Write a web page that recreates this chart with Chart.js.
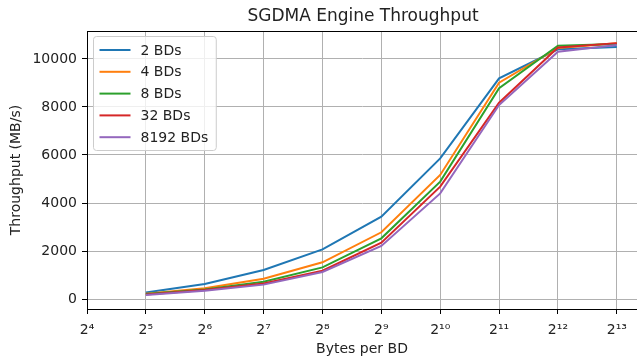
<!DOCTYPE html>
<html>
<head>
<meta charset="utf-8">
<title>SGDMA Engine Throughput</title>
<script src="https://cdn.jsdelivr.net/npm/chart.js@4.4.1/dist/chart.umd.min.js"></script>
<style>
  html, body { margin: 0; padding: 0; background: #ffffff; }
  #wrap { width: 637px; height: 360px; }
</style>
</head>
<body>
<div id="wrap"><canvas id="throughputChart" width="637" height="360"></canvas></div>
<script>
// bytes per buffer descriptor (x, log2 axis)
const bytesPerBD = [32, 64, 128, 256, 512, 1024, 2048, 4096, 8192];

// throughput in MB/s
const bd2 = [270, 625, 1210, 2070, 3430, 5860, 9190, 10400, 10500];
const bd4 = [225, 445, 845, 1530, 2780, 5170, 9010, 10460, 10650];
const bd8 = [210, 400, 720, 1320, 2530, 4890, 8780, 10550, 10620];
const bd32 = [190, 375, 650, 1180, 2350, 4680, 8180, 10480, 10660];
const bd8192 = [170, 345, 600, 1125, 2210, 4400, 8080, 10300, 10580];

const seriesLabels = ["2 BDs", "4 BDs", "8 BDs", "32 BDs", "8192 BDs"];
const seriesColors = ["#1f77b4", "#ff7f0e", "#2ca02c", "#d62728", "#9467bd"];

// tick labels
const xTickExponents = [4, 5, 6, 7, 8, 9, 10, 11, 12, 13];
const yTicks = [0, 2000, 4000, 6000, 8000, 10000];

const FONT = "'DejaVu Sans', sans-serif";
const SUP = { "0": "\u2070", "1": "\u00b9", "2": "\u00b2", "3": "\u00b3", "4": "\u2074",
  "5": "\u2075", "6": "\u2076", "7": "\u2077", "8": "\u2078", "9": "\u2079" };

function pow2Label(value) {
  const e = Math.round(Math.log2(value));
  return "2" + String(e).split("").map((d) => SUP[d]).join("");
}

function toPoints(values) {
  return values.map((v, i) => ({ x: bytesPerBD[i], y: v }));
}

/**
 * Title, top spine and matplotlib-like legend box
 */
const decorPlugin = {
  id: "decor",
  afterDatasetsDraw(chart) {
    const ctx = chart.ctx;
    const area = chart.chartArea;

    ctx.save();
    // top spine
    ctx.strokeStyle = "#000000";
    ctx.lineWidth = 1;
    ctx.beginPath();
    ctx.moveTo(area.left, area.top + 0.5);
    ctx.lineTo(area.right, area.top + 0.5);
    ctx.stroke();

    // legend
    const sets = chart.data.datasets;
    ctx.font = "14px " + FONT;
    let maxW = 0;
    sets.forEach((ds) => { maxW = Math.max(maxW, ctx.measureText(ds.label).width); });
    const bx = area.left + 6.5;
    const by = area.top + 5.5;
    const textX = bx + 47;
    const bw = textX - bx + maxW + 8;
    const rowH = 21.8;
    const bh = sets.length * rowH + 5;
    ctx.fillStyle = "rgba(255,255,255,0.8)";
    ctx.strokeStyle = "#cccccc";
    ctx.beginPath();
    ctx.roundRect(bx, by, bw, bh, 3);
    ctx.fill();
    ctx.stroke();

    sets.forEach((ds, i) => {
      const y = by + 13.5 + i * rowH;
      ctx.strokeStyle = ds.borderColor;
      ctx.lineWidth = 2;
      ctx.beginPath();
      ctx.moveTo(bx + 6, y);
      ctx.lineTo(bx + 37, y);
      ctx.stroke();
      ctx.fillStyle = "#222222";
      ctx.textBaseline = "middle";
      ctx.textAlign = "left";
      ctx.fillText(ds.label, textX, y + 1);
    });

    // title, centred over the axes
    ctx.font = "17px " + FONT;
    ctx.fillStyle = "#222222";
    ctx.textAlign = "center";
    ctx.textBaseline = "middle";
    ctx.fillText("SGDMA Engine Throughput", (area.left + area.right) / 2 + 1, 16.5);
    ctx.restore();
  },
};

const seriesValues = [bd2, bd4, bd8, bd32, bd8192];

const ctx = document.getElementById("throughputChart").getContext("2d");
const chart = new Chart(ctx, {
  type: "line",
  data: {
    datasets: seriesValues.map((vals, i) => ({
      label: seriesLabels[i],
      data: toPoints(vals),
      borderColor: seriesColors[i],
      backgroundColor: seriesColors[i],
      borderWidth: 2,
      pointRadius: 0,
      tension: 0,
      fill: false,
      order: seriesValues.length - i,
    })),
  },
  options: {
    responsive: false,
    animation: false,
    layout: { padding: { top: 31, right: 0, bottom: 0, left: 0 } },
    plugins: {
      legend: { display: false },
      title: { display: false },
      tooltip: { enabled: false },
    },
    scales: {
      x: {
        type: "logarithmic",
        min: 16,
        max: Math.pow(2, 13.343),
        afterBuildTicks: (scale) => {
          scale.ticks = xTickExponents.map((e) => ({ value: Math.pow(2, e) }));
        },
        afterFit: (scale) => { scale.height = 51; },
        ticks: {
          autoSkip: false,
          maxRotation: 0,
          padding: 8,
          color: "#222222",
          font: { family: FONT, size: 14 },
          callback: (value) => pow2Label(value),
        },
        grid: {
          color: "#b0b0b0",
          lineWidth: 1,
          tickColor: "#000000",
          tickLength: 5,
        },
        border: { color: "#000000", width: 1 },
        title: {
          display: true,
          text: "Bytes per BD",
          color: "#222222",
          font: { family: FONT, size: 14 },
          padding: { top: 0, bottom: 2 },
        },
      },
      y: {
        type: "linear",
        min: -415,
        max: 11165,
        afterBuildTicks: (scale) => {
          scale.ticks = yTicks.map((v) => ({ value: v }));
        },
        afterFit: (scale) => { scale.width = 87; },
        ticks: {
          padding: 5,
          color: "#222222",
          font: { family: FONT, size: 14 },
          callback: (value) => String(value),
        },
        grid: {
          color: "#b0b0b0",
          lineWidth: 1,
          tickColor: "#000000",
          tickLength: 5,
        },
        border: { color: "#000000", width: 1 },
        title: {
          display: true,
          text: "Throughput (MB/s)",
          color: "#222222",
          font: { family: FONT, size: 14 },
          padding: { top: 8, bottom: 0 },
        },
      },
    },
  },
  plugins: [decorPlugin],
});
</script>
</body>
</html>
